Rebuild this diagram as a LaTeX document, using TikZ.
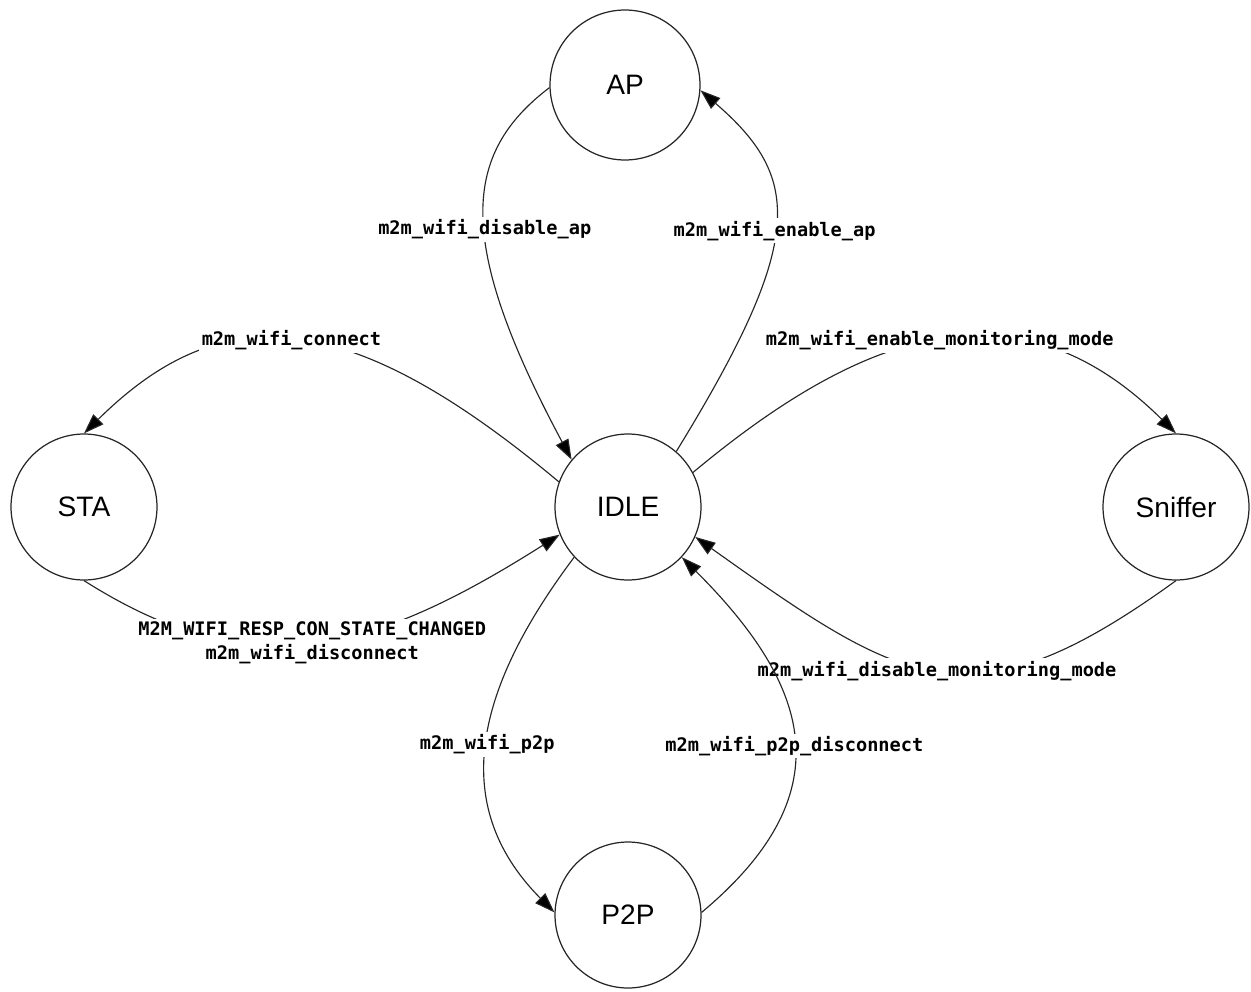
\documentclass[tikz,border=0pt]{standalone}
\usepackage{fontspec}
\setmainfont{Liberation Sans}
\newfontfamily\monofont{DejaVu Sans Mono}
\usetikzlibrary{arrows.meta}

\begin{document}
\begin{tikzpicture}[x=0.02cm, y=-0.02cm,
  state/.style={
    draw=black!85, circle, line width=0.7pt,
    minimum size=2.92cm, inner sep=0pt,
    font=\fontsize{16}{19}\selectfont
  },
  trans/.style={-{Triangle[length=11.5pt, width=8pt, fill=black]},
    line width=0.65pt, draw=black!85},
  lbl/.style={fill=white, inner sep=1.5pt, align=center,
    font=\monofont\bfseries\fontsize{10.6}{13.6}\selectfont}]

\useasboundingbox (0,0) rectangle (1251,991);

% States
\node[state, minimum size=3cm] (ap) at (625,85) {AP};
\node[state] (idle) at (628,507) {IDLE};
\node[state] (sta) at (84,507) {STA};
\node[state] (sniffer) at (1176,507) {Sniffer};
\node[state] (p2p) at (628,915) {P2P};

% AP <-> IDLE
\draw[trans] (ap.182) .. controls (462,154) and (455,242) .. (idle.140)
  node[lbl, pos=0.535] {m2m\_wifi\_disable\_ap};
\draw[trans] (idle.49) .. controls (806,240) and (802,178) .. (ap.-4)
  node[lbl, pos=0.48] {m2m\_wifi\_enable\_ap};

% STA <-> IDLE
\draw[trans] (idle.160) .. controls (344,302) and (219,300) .. (sta.north)
  node[lbl, pos=0.5] {m2m\_wifi\_connect};
\draw[trans] (sta.south) .. controls (250,686) and (368,656) .. (idle.202)
  node[lbl, pos=0.5] {M2M\_WIFI\_RESP\_CON\_STATE\_CHANGED\\m2m\_wifi\_disconnect};

% Sniffer <-> IDLE
\draw[trans] (idle.28) .. controls (865,329) and (1018,277) .. (sniffer.north)
  node[lbl, pos=0.5] {m2m\_wifi\_enable\_monitoring\_mode};
\draw[trans] (sniffer.south) .. controls (970,730) and (905,686) .. (idle.-24)
  node[lbl, pos=0.5] {m2m\_wifi\_disable\_monitoring\_mode};

% P2P <-> IDLE
\draw[trans] (idle.223) .. controls (479,684) and (445,802) .. (p2p.178)
  node[lbl, pos=0.51] {m2m\_wifi\_p2p};
\draw[trans] (p2p.2) .. controls (842,795) and (814,689) .. (idle.-43)
  node[lbl, pos=0.483] {m2m\_wifi\_p2p\_disconnect};

\end{tikzpicture}
\end{document}
